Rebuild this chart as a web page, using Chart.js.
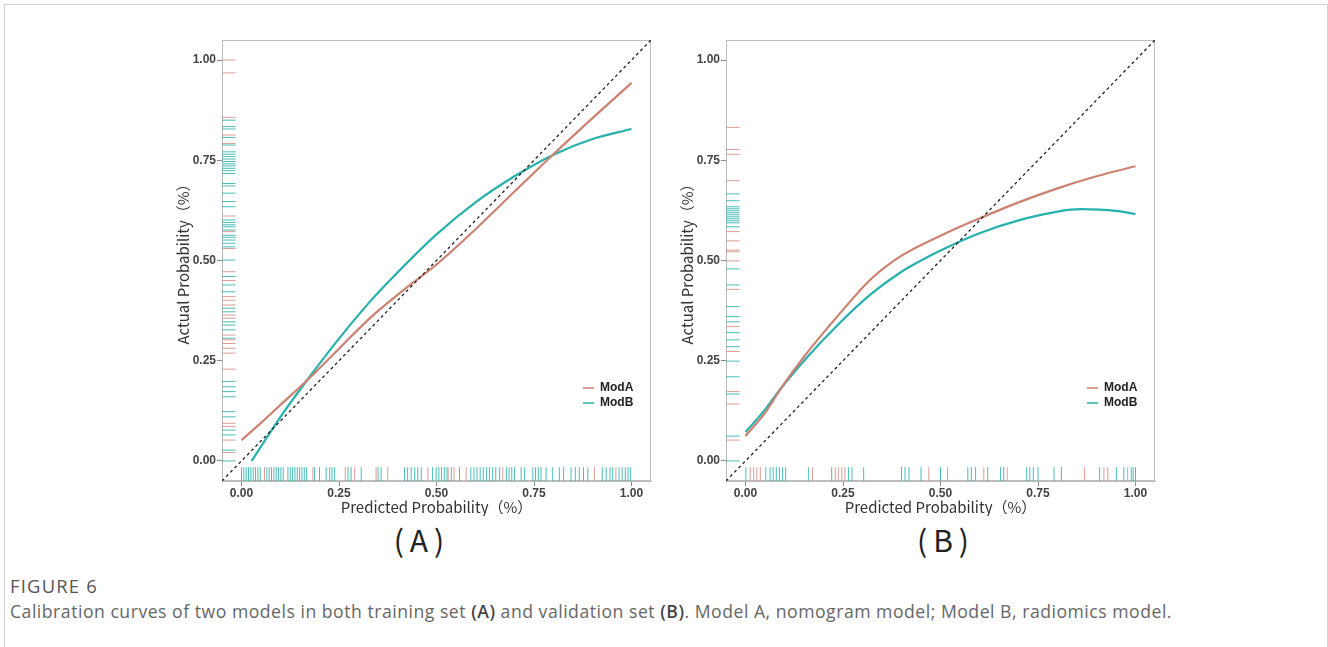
<!DOCTYPE html>
<html>
<head>
<meta charset="utf-8">
<script src="https://cdn.jsdelivr.net/npm/chart.js@4.4.0/dist/chart.umd.min.js"></script>
<style>
  body { margin:0; background:#fff; width:1328px; height:647px; overflow:hidden; position:relative; }
  #frame { position:absolute; left:4px; top:4px; width:1322px; height:700px; border:1px solid #d0d0d0; }
  canvas { position:absolute; }
  #cA { left:150px; top:30px; }
  #cB { left:654px; top:30px; }
  .panel { position:absolute; top:518px; width:200px; text-align:center; font-family:"Noto Sans CJK SC", sans-serif;
           font-size:30px; line-height:42px; color:#222; letter-spacing:6px; }
  #figno { position:absolute; left:10px; top:576px; font-family:"Open Sans", sans-serif; font-size:15px; color:#555; white-space:nowrap; line-height:20px; }
  #caption { position:absolute; left:10px; top:600px; font-family:"Open Sans", sans-serif; font-size:16px; color:#666; white-space:nowrap; line-height:22px; }
  #caption b { color:#444; font-weight:600; }
</style>
</head>
<body>
<div id="frame"></div>
<canvas id="cA" width="520" height="486"></canvas>
<canvas id="cB" width="520" height="486"></canvas>
<div class="panel" style="left:322px">(A)</div>
<div class="panel" style="left:846px">(B)</div>
<div id="figno">FIGURE 6</div>
<div id="caption">Calibration curves of two models in both training set <b>(A)</b> and validation set <b>(B)</b>. Model A, nomogram model; Model B, radiomics model.</div>

<script>
// tick labels on both axes
const tickVals = [0, 0.25, 0.5, 0.75, 1];

// Panel A (training set) curves
const aModAx = [0, 0.05, 0.1, 0.167, 0.25, 0.33, 0.42, 0.5, 0.6, 0.7, 0.8, 0.9, 1.0];
const aModAy = [0.052, 0.095, 0.14, 0.20, 0.28, 0.357, 0.43, 0.49, 0.578, 0.672, 0.765, 0.855, 0.943];
const aModBx = [0.026, 0.1, 0.167, 0.25, 0.33, 0.4, 0.5, 0.6, 0.7, 0.8, 0.9, 1.0];
const aModBy = [0.0, 0.11, 0.20, 0.305, 0.398, 0.47, 0.565, 0.645, 0.71, 0.764, 0.803, 0.828];

// Panel A rugs
const aRugAx = [0.059, 0.183, 0.266, 0.29, 0.345, 0.375, 0.478, 0.53, 0.545, 0.576, 0.67, 0.905, 0.96];
const aRugBx = [0.000, 0.006, 0.012, 0.018, 0.024, 0.030, 0.036, 0.042, 0.048,
  0.065, 0.071, 0.077, 0.083, 0.089, 0.095, 0.101, 0.107,
  0.119, 0.125, 0.131, 0.137, 0.143, 0.149, 0.155, 0.161, 0.167,
  0.187, 0.200, 0.217, 0.226, 0.232, 0.238, 0.273, 0.281, 0.307, 0.350, 0.358,
  0.418, 0.426, 0.435, 0.444, 0.452, 0.461,
  0.490, 0.499, 0.506, 0.513, 0.520, 0.527, 0.538, 0.559,
  0.588, 0.596, 0.604, 0.612, 0.620, 0.628, 0.636, 0.644, 0.652, 0.662,
  0.679, 0.686, 0.693, 0.700, 0.717, 0.726, 0.747, 0.754, 0.761, 0.768,
  0.781, 0.798, 0.815, 0.826, 0.845, 0.856, 0.866, 0.877, 0.888,
  0.925, 0.935, 0.945, 0.952, 0.968, 0.976, 0.984, 0.991, 0.997];
const aRugAy = [1.0, 0.968, 0.857, 0.813, 0.792, 0.611, 0.572, 0.53, 0.472, 0.45, 0.41, 0.401, 0.389,
  0.364, 0.356, 0.314, 0.302, 0.293, 0.281, 0.269, 0.229, 0.094, 0.086, 0.052, 0.021];
const aRugBy = [0.85, 0.834, 0.828, 0.807, 0.788, 0.771, 0.765, 0.759, 0.753, 0.747, 0.741, 0.736, 0.730, 0.724, 0.717,
  0.692, 0.686, 0.668, 0.647, 0.634, 0.601, 0.595, 0.589, 0.584, 0.576, 0.563, 0.558, 0.551, 0.543, 0.534,
  0.501, 0.46, 0.439, 0.422, 0.381, 0.372, 0.347, 0.339, 0.327, 0.306, 0.198, 0.185, 0.173, 0.160,
  0.123, 0.110, 0.077, 0.065, 0.027, 0.0];

// Panel B (validation set) curves
const bModAx = [0, 0.05, 0.09, 0.15, 0.2, 0.235, 0.32, 0.4, 0.5, 0.6, 0.7, 0.8, 0.9, 1.0];
const bModAy = [0.062, 0.12, 0.18, 0.26, 0.32, 0.36, 0.452, 0.512, 0.562, 0.605, 0.645, 0.68, 0.71, 0.735];
const bModBx = [0, 0.05, 0.09, 0.15, 0.235, 0.32, 0.4, 0.45, 0.5, 0.6, 0.7, 0.8, 0.86, 0.95, 1.0];
const bModBy = [0.072, 0.128, 0.18, 0.25, 0.338, 0.415, 0.472, 0.50, 0.525, 0.568, 0.60, 0.622, 0.628, 0.624, 0.616];

// Panel B rugs
const bRugAx = [0.012, 0.021, 0.029, 0.038, 0.172, 0.23, 0.238, 0.247, 0.255, 0.47, 0.518, 0.611, 0.671, 0.869, 0.919, 0.929, 0.98];
const bRugBx = [0.001, 0.052, 0.063, 0.071, 0.079, 0.087, 0.095, 0.103, 0.162, 0.221, 0.264, 0.273, 0.303,
  0.40, 0.409, 0.419, 0.45, 0.50, 0.57, 0.579, 0.59, 0.621, 0.654, 0.662, 0.721, 0.729, 0.738, 0.75,
  0.791, 0.81, 0.908, 0.951, 0.97, 0.989, 0.994, 1.0];
const bRugAy = [0.832, 0.777, 0.765, 0.699, 0.572, 0.549, 0.526, 0.522, 0.499, 0.428, 0.335, 0.273, 0.173, 0.142, 0.052];
const bRugBy = [0.666, 0.649, 0.634, 0.629, 0.624, 0.619, 0.614, 0.609, 0.604, 0.599, 0.594, 0.584,
  0.479, 0.439, 0.385, 0.36, 0.347, 0.32, 0.302, 0.285, 0.249, 0.21, 0.167, 0.062, 0.0];

const colA = '#cb8272', colB = '#27b1ac';
const rugColA = 'rgba(215,140,132,0.85)', rugColB = 'rgba(42,178,172,0.85)';
const lo = -0.05, hi = 1.05, rugPos = -0.033;

const pts = (xs, ys) => xs.map((x, i) => ({x: x, y: ys[i]}));

// frame around plot area + legend in lower right
const boxPlugin = {
  id: 'box',
  beforeDatasetsDraw(chart) {
    const a = chart.chartArea, ctx = chart.ctx;
    ctx.save();
    ctx.strokeStyle = '#bdbdbd';
    ctx.lineWidth = 1;
    ctx.strokeRect(a.left + 0.5, a.top + 0.5, a.right - a.left - 1, a.bottom - a.top - 1);
    ctx.restore();
  },
  afterDatasetsDraw(chart) {
    const a = chart.chartArea, ctx = chart.ctx;
    const items = chart.data.datasets.filter(d => d.inLegend);
    ctx.save();
    ctx.font = 'bold 12px "Liberation Sans", Arial, sans-serif';
    ctx.textBaseline = 'middle';
    items.forEach((d, i) => {
      const y = a.bottom - 93 + i * 15;
      ctx.strokeStyle = d.borderColor;
      ctx.lineWidth = 1.5;
      ctx.beginPath();
      ctx.moveTo(a.right - 68, y);
      ctx.lineTo(a.right - 57, y);
      ctx.stroke();
      ctx.fillStyle = '#222';
      ctx.fillText(d.label, a.right - 51, y);
    });
    ctx.restore();
  }
};

function makeChart(id, modA, modB, rugAx, rugBx, rugAy, rugBy) {
  const curve = (label, data, color) => ({
    label: label, data: data, showLine: true, borderColor: color, backgroundColor: color,
    borderWidth: 2.2, pointRadius: 0, cubicInterpolationMode: 'monotone', inLegend: true
  });
  const rug = (data, color, rot) => ({
    data: data, showLine: false, pointStyle: 'line', pointRadius: 7, rotation: rot,
    pointBorderColor: color, borderColor: color, pointBorderWidth: 1
  });
  const axis = (title, pos) => ({
    type: 'linear', position: pos, min: lo, max: hi,
    afterBuildTicks: s => { s.ticks = tickVals.map(v => ({value: v})); },
    afterFit: s => { if (pos === 'left') s.width = 48; else s.height = 35; },
    grid: { display: true, drawOnChartArea: false, drawTicks: true, tickLength: 5, color: '#8a8a8a' },
    border: { display: true, color: '#bdbdbd' },
    ticks: { padding: pos === 'left' ? 1 : 0, color: '#444',
             font: { family: '"Liberation Sans", Arial, sans-serif', size: 12, weight: 'bold' },
             callback: v => Number(v).toFixed(2) },
    title: { display: true, text: title, color: '#333', padding: 0,
             font: { family: '"Noto Sans CJK SC", sans-serif', size: 15, lineHeight: 1.2 } }
  });
  return new Chart(document.getElementById(id), {
    type: 'scatter',
    data: {
      datasets: [
        rug(rugAx.map(v => ({x: v, y: rugPos})), rugColA, 90),
        rug(rugBx.map(v => ({x: v, y: rugPos})), rugColB, 90),
        rug(rugAy.map(v => ({x: rugPos, y: v})), rugColA, 0),
        rug(rugBy.map(v => ({x: rugPos, y: v})), rugColB, 0),
        { data: [{x: lo, y: lo}, {x: hi, y: hi}], showLine: true, borderColor: '#222', borderWidth: 1.3,
          borderDash: [3, 3], pointRadius: 0 },
        curve('ModA', modA, colA),
        curve('ModB', modB, colB)
      ]
    },
    options: {
      responsive: false, animation: false, events: [],
      layout: { padding: { left: 24, right: 19, top: 10, bottom: 0 } },
      plugins: { legend: { display: false }, tooltip: { enabled: false } },
      scales: {
        x: axis('Predicted Probability（%）', 'bottom'),
        y: axis('Actual Probability（%）', 'left')
      }
    },
    plugins: [boxPlugin]
  });
}

makeChart('cA', pts(aModAx, aModAy), pts(aModBx, aModBy), aRugAx, aRugBx, aRugAy, aRugBy);
makeChart('cB', pts(bModAx, bModAy), pts(bModBx, bModBy), bRugAx, bRugBx, bRugAy, bRugBy);

// caption lines: grow the font most of the way to the figure's width, spacing does the rest
function fitWidth(el, w) {
  const w0 = el.getBoundingClientRect().width;
  const fs = parseFloat(getComputedStyle(el).fontSize);
  el.style.fontSize = (fs * (1 + 0.6 * (w / w0 - 1))) + 'px';
  const w1 = el.getBoundingClientRect().width;
  el.style.letterSpacing = ((w - w1) / el.textContent.length) + 'px';
}
fitWidth(document.getElementById('figno'), 88);
fitWidth(document.getElementById('caption'), 1162);
</script>
</body>
</html>
